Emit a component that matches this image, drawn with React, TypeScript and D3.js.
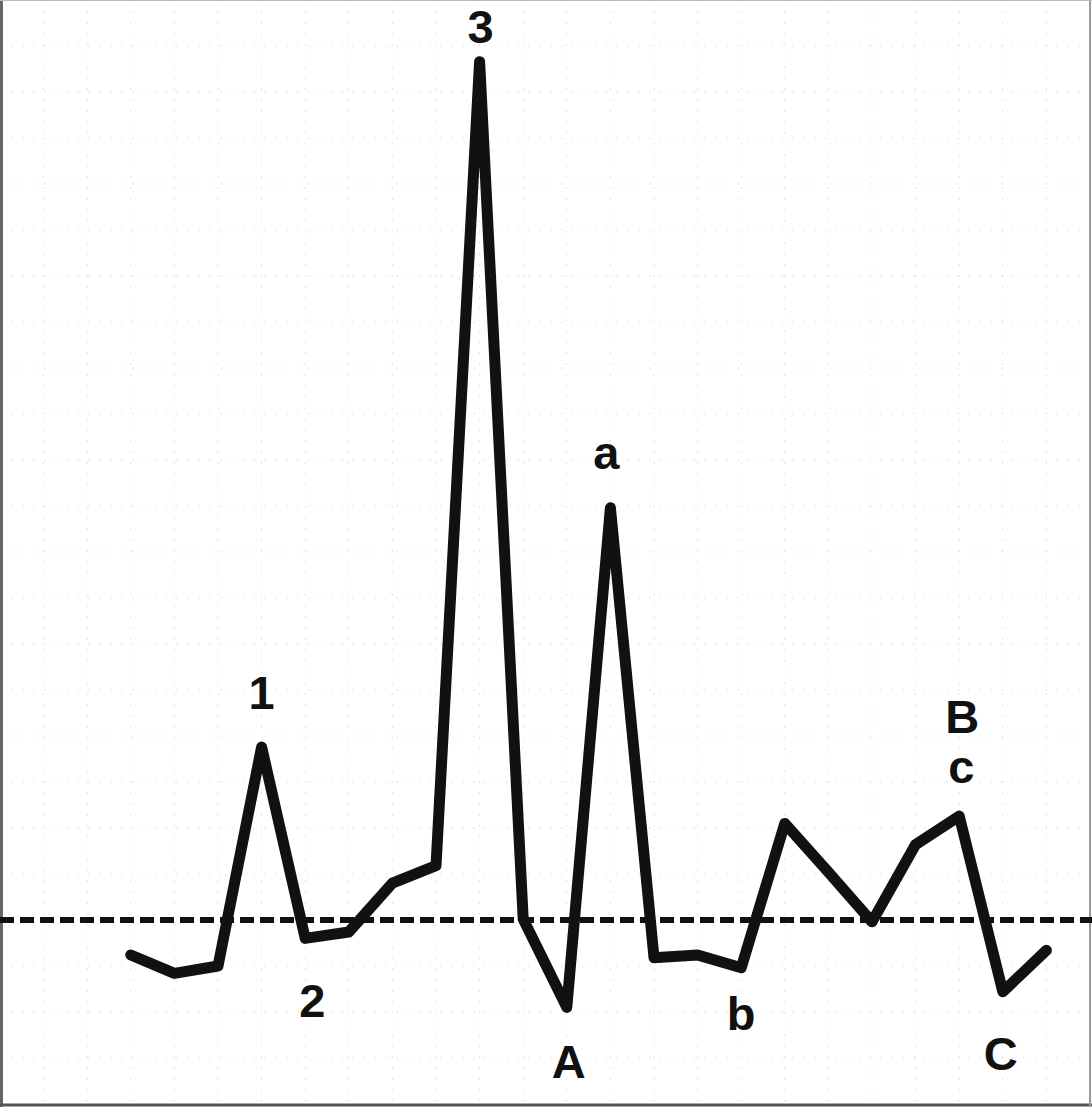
import React, { useEffect } from 'react';
import * as d3 from 'd3';

// trace positions (grid columns) and their readings, baseline = 0
const positions = [3, 4, 5, 6, 7, 8, 9, 10, 11, 12, 13, 14, 15, 16, 17, 18, 19, 20, 21, 22, 23, 24];
const values = [-3.8, -5.8, -5.0, 18.8, -2.0, -1.3, 4.0, 5.9, 93.3, 0.1, -9.5, 44.8, -4.1, -3.8, -5.2, 10.5, 5.2, -0.2, 8.2, 11.3, -7.8, -3.3];

// annotation letters and the trace point (1-based) each one marks
const labelTexts = ['1', '2', '3', 'A', 'a', 'b', 'B', 'c', 'C'];
const labelPoints = [4, 5, 9, 11, 12, 15, 20, 20, 21];

const xGridTicks = d3.range(1, 25);
const yGridTicks = d3.range(-15, 100, 5);

const App: React.FC = () => {
  const width = 1092;
  const height = 1107;

  useEffect(() => {
    document.body.style.margin = '0';
  }, []);

  const x = d3.scaleLinear().domain([0, 25]).range([0, 1090]);
  const y = d3.scaleLinear().domain([-20, 100]).range([1104, 0]);

  const data = positions.map((p, i) => ({ p, v: values[i] }));
  const line = d3.line<{ p: number; v: number }>()
    .x(d => x(d.p))
    .y(d => y(d.v));

  // label offsets from their point: [dx, dy]
  const offsets: [number, number][] = [
    [0, -38], [7, 79], [1, -19], [2, 71], [-4, -39], [0, 62], [3, -83], [2, -33], [-2, 78],
  ];

  return (
    <svg width={width} height={height} style={{ display: 'block', background: '#fff' }}>
      {/* faint grid */}
      <g stroke="#e2e2e2" strokeWidth={1} strokeDasharray="2,9">
        {xGridTicks.map(t => (
          <line key={'gx' + t} x1={x(t)} x2={x(t)} y1={0} y2={height} />
        ))}
        {yGridTicks.map(t => (
          <line key={'gy' + t} x1={0} x2={width} y1={y(t)} y2={y(t)} />
        ))}
      </g>

      {/* frame */}
      <line x1={1.5} x2={1.5} y1={0} y2={height} stroke="#666" strokeWidth={3} />
      <line x1={0} x2={width} y1={height - 2} y2={height - 2} stroke="#555" strokeWidth={3} />
      <line x1={width - 2} x2={width - 2} y1={0} y2={height} stroke="#999" strokeWidth={2} />
      <line x1={0} x2={width} y1={0.5} y2={0.5} stroke="#bbb" strokeWidth={1} />

      {/* baseline */}
      <line x1={0} x2={width} y1={y(0)} y2={y(0)} stroke="#111" strokeWidth={6} strokeDasharray="14,6" />

      {/* trace */}
      <path d={line(data) || ''} fill="none" stroke="#111" strokeWidth={11} strokeLinejoin="round" strokeLinecap="round" />

      {/* annotations */}
      <g fontFamily="Arial, 'Liberation Sans', sans-serif" fontWeight="bold" fontSize={47} fill="#111" textAnchor="middle">
        {labelTexts.map((t, i) => {
          const idx = labelPoints[i] - 1;
          return (
            <text key={t + i} x={x(positions[idx]) + offsets[i][0]} y={y(values[idx]) + offsets[i][1]}>
              {t}
            </text>
          );
        })}
      </g>
    </svg>
  );
};

export default App;
